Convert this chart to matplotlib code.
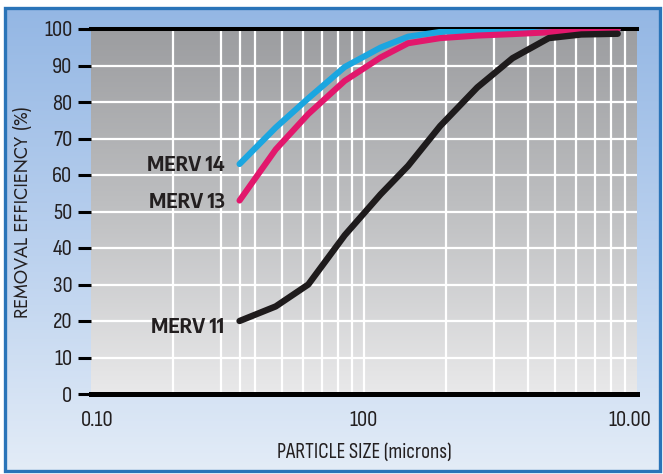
import numpy as np
import matplotlib.pyplot as plt
from matplotlib.colors import LinearSegmentedColormap
from matplotlib.patches import Rectangle
from matplotlib.transforms import ScaledTranslation

# particle size (microns), mid points of the size ranges
size = [0.35, 0.475, 0.625, 0.85, 1.15, 1.45, 1.9, 2.6, 3.5, 4.75, 6.25, 8.5]
merv14 = [63, 73, 81, 89.6, 94.9, 97.9, 99.2, 99.7, 99.9, 100, 100, 100]
merv13 = [53, 67, 76.7, 85.8, 92.2, 96.1, 97.5, 98.2, 98.6, 99.1, 99.6, 100]
merv11 = [20, 24, 30, 43.5, 54.7, 62.5, 73.4, 84, 92, 97.5, 98.5, 98.7]

xticks = [0.1, 1, 10]
xticklabels = ['0.10', '100', '10.00']
yticks = list(range(0, 101, 10))
vgrid = [0.2, 0.3, 0.35, 0.4, 0.5, 0.6, 0.7, 0.8, 0.9, 1, 2, 3, 4, 5, 6, 7, 8, 9]
hgrid = list(range(10, 100, 10))

narrow = ['Sofia Sans Condensed', 'DejaVu Sans']
futura = ['Jost', 'DejaVu Sans']
boldf = ['Encode Sans Semi Condensed', 'DejaVu Sans']
txt = '#231f20'

fig = plt.figure(figsize=(6.63, 4.74), dpi=100, facecolor='white')

# blue panel behind everything
x0, x1 = 4.5 / 663, 659.5 / 663
y0, y1 = 1 - 470.5 / 474, 1 - 8 / 474
bg = fig.add_axes([x0, y0, x1 - x0, y1 - y0], zorder=-10)
bcmap = LinearSegmentedColormap.from_list('bl', ['#94b7e4', '#b9d0ee', '#e3ecf7'])
bg.imshow(np.linspace(0, 1, 256)[:, None], cmap=bcmap, aspect='auto',
          extent=[0, 1, 0, 1])
bg.axis('off')
fig.patches.append(Rectangle((x0, y0), x1 - x0, y1 - y0, transform=fig.transFigure,
                             fill=False, edgecolor='#2a74b8', lw=2.4, zorder=10))

pos = [91 / 663, 1 - 394 / 474, 546 / 663, 365 / 474]

# grey gradient plot area
gax = fig.add_axes(pos, zorder=0)
gcmap = LinearSegmentedColormap.from_list('gr', ['#9c9da0', '#bfc0c2', '#e9e9ea'])
gax.imshow(np.linspace(0, 1, 256)[:, None], cmap=gcmap, aspect='auto',
           extent=[0, 1, 0, 1])
gax.axis('off')

ax = fig.add_axes(pos, zorder=1)
ax.set_facecolor('none')
ax.set_xscale('log')
ax.set_xlim(0.1, 10)
ax.set_ylim(0, 100)

for v in vgrid:
    ax.axvline(v, color='white', lw=1.6, zorder=1)
for h in hgrid:
    ax.axhline(h, color='white', lw=1.6, zorder=1)

ax.plot(size, merv14, color='#1ba6e0', lw=4.4, solid_capstyle='round', zorder=4)
ax.plot(size, merv13, color='#e2176c', lw=4.4, solid_capstyle='round', zorder=5)
ax.plot(size, merv11, color='#1e1b1c', lw=4.6, solid_capstyle='round', zorder=6)

for name, vals, dy in [('MERV 14', merv14, -1), ('MERV 13', merv13, -1),
                       ('MERV 11', merv11, -6)]:
    ax.annotate(name, (size[0], vals[0]), xytext=(-15, dy), textcoords='offset pixels',
                ha='right', va='center', fontsize=14, fontweight='bold',
                family=boldf, color=txt)

for s in ['left', 'right']:
    ax.spines[s].set_visible(False)
ax.spines['top'].set_linewidth(2.9)
ax.spines['bottom'].set_linewidth(3.6)
ax.spines['top'].set_color('black')
ax.spines['bottom'].set_color('black')

ax.set_yticks(yticks)
ax.set_yticklabels([str(v) for v in yticks], family=narrow, fontsize=16.5, color=txt)
ax.tick_params(axis='y', direction='out', length=9.5, width=2.2, pad=4, color='black')

ax.set_xticks(xticks)
ax.set_xticks([], minor=True)
ax.set_xticklabels(xticklabels, family=narrow, fontsize=16.5, color=txt)
ax.tick_params(axis='x', length=0, pad=12)
labs = ax.get_xticklabels()
labs[0].set_transform(labs[0].get_transform() + ScaledTranslation(0.06, 0, fig.dpi_scale_trans))
labs[2].set_transform(labs[2].get_transform() + ScaledTranslation(-0.07, 0, fig.dpi_scale_trans))

ax.set_xlabel('PARTICLE SIZE (microns)', family=narrow, fontsize=15.5, color=txt)
ax.xaxis.set_label_coords(0.5, -0.159)
ax.xaxis.label.set_va('center')
ax.set_ylabel('REMOVAL EFFICIENCY (%)', family=futura, fontsize=13, color=txt)
ax.yaxis.set_label_coords(-0.1255, 0.5)
ax.yaxis.label.set_va('center')

fig.savefig('out.png', dpi=100, facecolor='white')
